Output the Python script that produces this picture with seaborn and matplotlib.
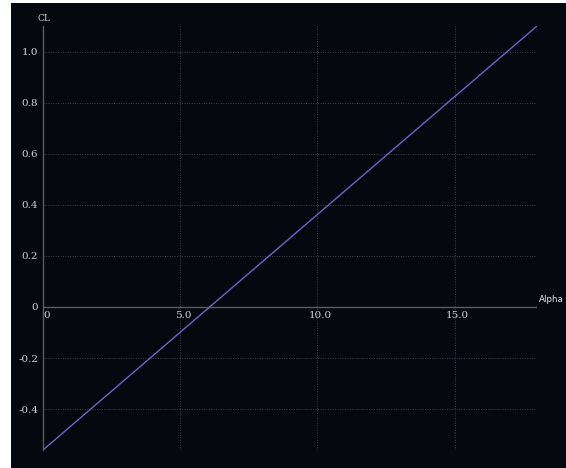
import matplotlib
matplotlib.use("Agg")
import matplotlib.pyplot as plt
import seaborn as sns
import pandas as pd
from matplotlib.patches import Rectangle

alpha = [0.0, 18.0]
cl = [-0.56, 1.10]
x_ticks = [0, 5, 10, 15]
x_labels = ["0", "5.0", "10.0", "15.0"]
y_ticks = [-0.4, -0.2, 0, 0.2, 0.4, 0.6, 0.8, 1.0]
y_labels = ["-0.4", "-0.2", "0", "0.2", "0.4", "0.6", "0.8", "1.0"]

df = pd.DataFrame({"Alpha": alpha, "CL": cl})

sns.set_style("dark")
bg = "#05080f"
txt = "#d0d0d0"
fig = plt.figure(figsize=(5.66, 4.68), dpi=100, facecolor="white")
fig.patches.append(Rectangle((11 / 566, 0), 1 - 11 / 566, 1 - 3 / 468,
                             transform=fig.transFigure, facecolor=bg,
                             edgecolor="none", zorder=-10))
ax = fig.add_axes([43 / 566, 1 - 450 / 468, (537 - 43) / 566, (450 - 26) / 468])
ax.set_zorder(1)
ax.set_facecolor(bg)

sns.lineplot(data=df, x="Alpha", y="CL", ax=ax, color="#6a64cc", linewidth=1.0)

ax.set_xlim(0, 18)
ax.set_ylim(-0.56, 1.10)
ax.set_xticks(x_ticks)
ax.set_yticks(y_ticks)
ax.set_yticklabels(y_labels)
ax.grid(True, color="#3e424c", linestyle=(0, (1, 1.5)), linewidth=0.7)
ax.set_xlabel("")
ax.set_ylabel("")

for s in ["top", "right", "bottom"]:
    ax.spines[s].set_visible(False)
ax.spines["left"].set_color("#5a5d60")
ax.spines["left"].set_linewidth(1.0)
ax.axhline(0, color="#5a5d60", linewidth=1.0, zorder=1)

ax.tick_params(axis="y", colors=txt, labelsize=7.5, length=2, color="#5a5d60", pad=1.5)
ax.tick_params(axis="x", length=0, labelbottom=False)
for lab in ax.get_yticklabels():
    lab.set_family("DejaVu Serif")
    lab.set_color(txt)

# x tick labels just below the zero line
for t, l in zip(x_ticks, x_labels):
    ax.annotate(l, xy=(t, 0), xytext=(0.5 if t == 0 else 2, -3), textcoords="offset points",
                ha="left" if t == 0 else "center", va="top", fontsize=7.5,
                family="DejaVu Serif", color=txt, annotation_clip=False)

ax.annotate("CL", xy=(0, 1.10), xytext=(1, 2), textcoords="offset points",
            ha="center", va="bottom", fontsize=6.5, family="DejaVu Serif",
            color=txt, annotation_clip=False)
ax.annotate("Alpha", xy=(18, 0), xytext=(1.5, 2), textcoords="offset points",
            ha="left", va="bottom", fontsize=6.3, color="#e6e6e6", annotation_clip=False)

fig.savefig("out.png", dpi=100, facecolor="white")
